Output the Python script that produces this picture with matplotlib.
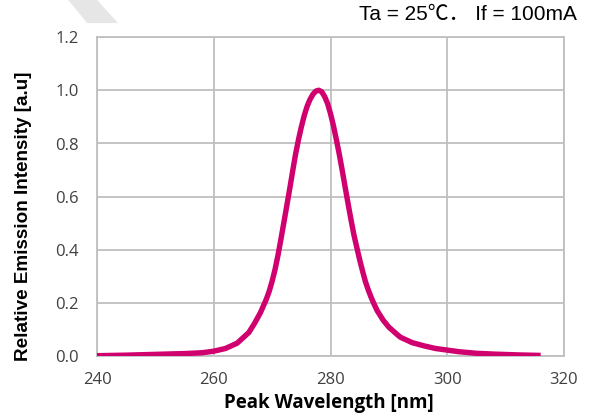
import numpy as np
import matplotlib.pyplot as plt
from matplotlib.patches import Polygon

# spectrum
wavelength = [240, 245, 250, 255, 258, 260, 262, 264, 266, 267, 268, 269,
              269.5, 270, 270.5, 271, 271.5, 272, 272.5, 273, 273.5, 274,
              274.5, 275, 275.5, 276, 276.5, 277, 277.5, 278, 278.5, 279,
              279.5, 280, 280.5, 281, 281.5, 282, 282.5, 283, 283.5, 284,
              284.5, 285, 285.5, 286, 286.5, 287, 287.5, 288, 289, 290,
              291.5, 292, 294, 296, 298, 300, 302, 305, 308, 312, 316]
intensity = [0.003, 0.005, 0.008, 0.011, 0.014, 0.020, 0.030, 0.050, 0.090,
             0.125, 0.165, 0.215, 0.245, 0.283, 0.327, 0.380, 0.440, 0.502,
             0.565, 0.628, 0.694, 0.758, 0.813, 0.862, 0.905, 0.940, 0.966,
             0.985, 0.997, 1.000, 0.994, 0.976, 0.950, 0.912, 0.867, 0.815,
             0.760, 0.700, 0.637, 0.575, 0.515, 0.458, 0.410, 0.363, 0.320,
             0.280, 0.248, 0.220, 0.195, 0.172, 0.137, 0.110, 0.081, 0.072,
             0.052, 0.040, 0.030, 0.024, 0.018, 0.012, 0.009, 0.006, 0.004]

x_ticks = [240, 260, 280, 300, 320]
y_ticks = [0.0, 0.2, 0.4, 0.6, 0.8, 1.0, 1.2]
condition = "Ta = 25\u2103\uff0e If = 100mA"

fig = plt.figure(figsize=(5.93, 4.20), dpi=100)
ax = fig.add_axes([0.1636, 0.1512, 0.7875, 0.7607])

ax.plot(wavelength, intensity, color="#D0006F", linewidth=3.9,
        solid_capstyle="butt", solid_joinstyle="round", zorder=3)

ax.set_xlim(240, 320)
ax.set_ylim(0, 1.2)
ax.set_xticks(x_ticks)
ax.set_yticks(y_ticks)
ax.set_yticklabels([f"{v:.1f}" for v in y_ticks])
ax.grid(True, color="#BFBFBF", linewidth=1.3)
ax.set_axisbelow(True)
for s in ax.spines.values():
    s.set_color("#BFBFBF")
    s.set_linewidth(1.3)
ax.tick_params(length=0, labelsize=12, labelcolor="#404040")
ax.tick_params(axis="y", pad=13)
ax.tick_params(axis="x", pad=11.5)
for lab in ax.get_xticklabels() + ax.get_yticklabels():
    lab.set_family("Open Sans")

ax.set_xlabel("Peak Wavelength [nm]", family="Open Sans",
              fontweight="bold", fontsize=13.5)
ax.xaxis.set_label_coords(0.497, -0.113)
ax.set_ylabel("Relative Emission Intensity [a.u]", family="Liberation Sans",
              fontweight="bold", fontsize=13.6)
ax.yaxis.set_label_coords(-0.139, 0.44)

fig.text(0.973, 1 - 20 / 420, condition, ha="right", va="baseline",
         fontsize=15,
         family=["Liberation Sans", "Noto Sans CJK JP", "DejaVu Sans"])

# faint grey band in the top-left corner of the scan
fig.patches.append(Polygon([[0.115, 1.0], [0.164, 1.0], [0.199, 0.945],
                            [0.147, 0.945]], closed=True,
                           transform=fig.transFigure, facecolor="#E6E6E6",
                           edgecolor="none"))

fig.savefig("out.png", dpi=100)
